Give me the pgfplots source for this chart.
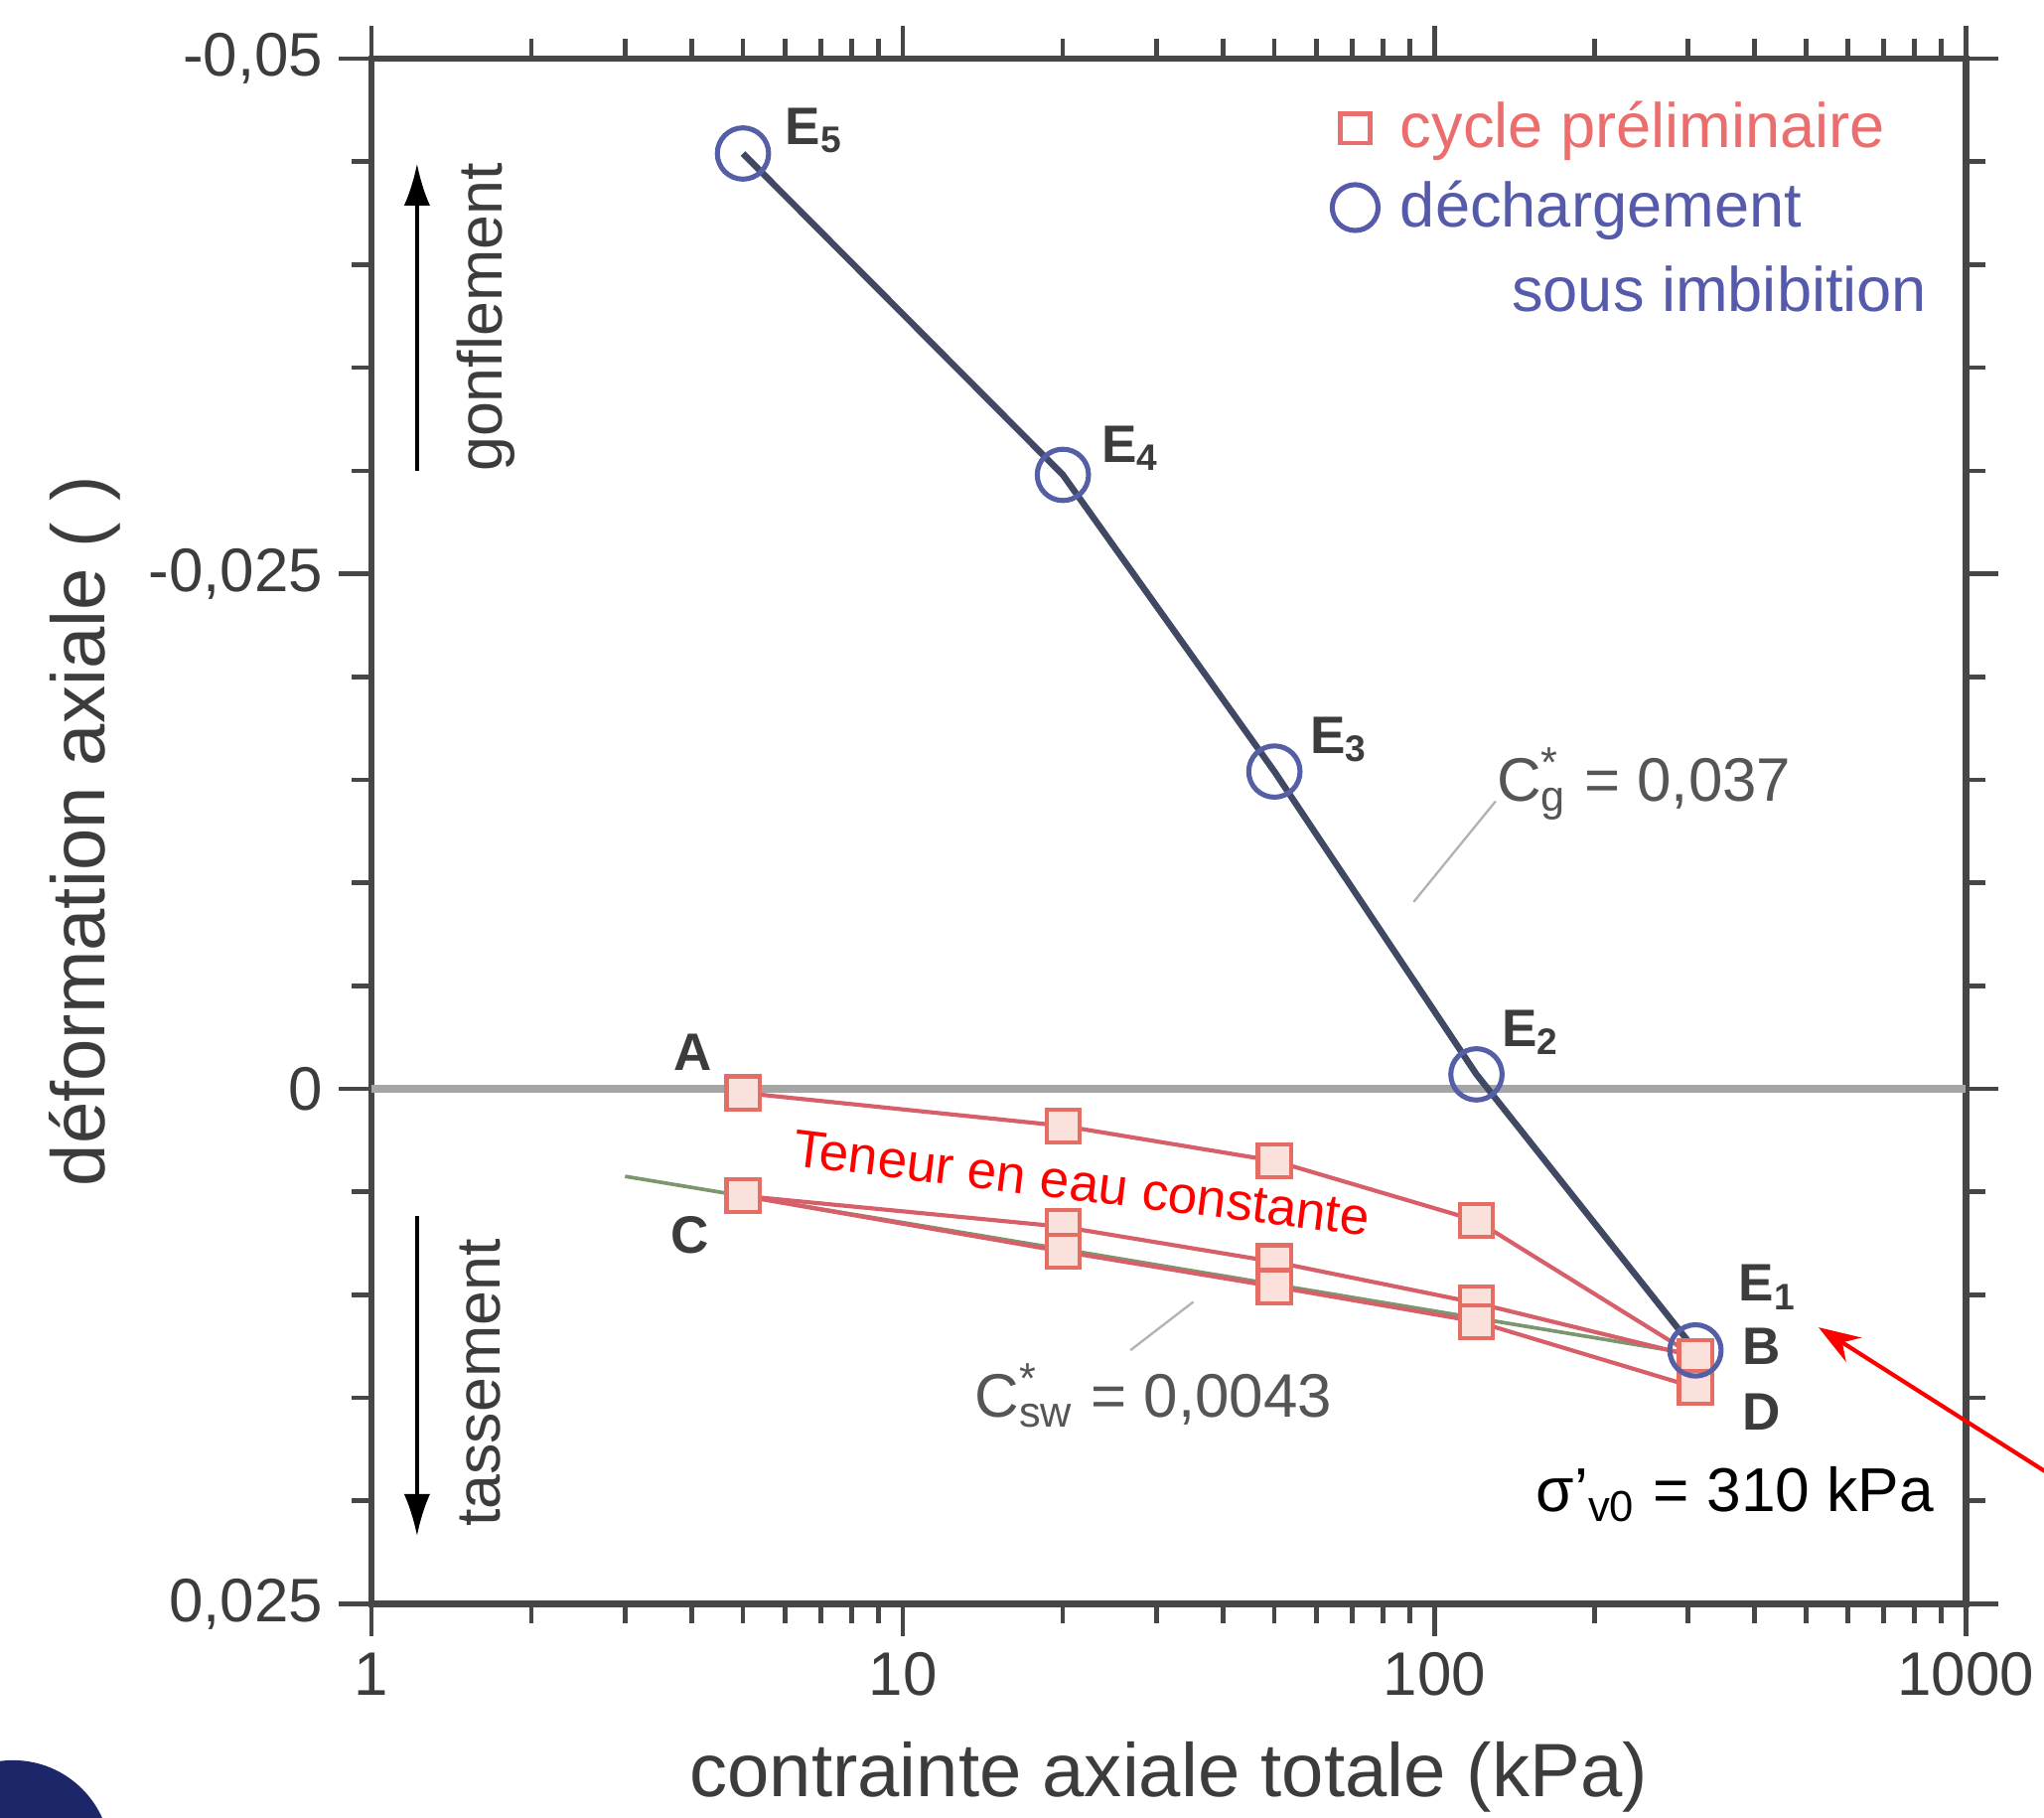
\documentclass[border=0pt]{standalone}
\usepackage{pgfplots}
\pgfplotsset{compat=1.18}
\usepackage{fontspec}
\setmainfont{Liberation Sans}
\usetikzlibrary{arrows.meta}
\definecolor{redline}{RGB}{215,95,105}
\definecolor{redmark}{RGB}{228,110,100}
\definecolor{redfill}{RGB}{250,225,220}
\definecolor{blueline}{RGB}{65,72,100}
\definecolor{bluemark}{RGB}{85,95,165}
\definecolor{legred}{RGB}{235,110,110}
\definecolor{legblue}{RGB}{85,90,170}
\definecolor{zerogray}{RGB}{165,165,165}
\definecolor{axgray}{RGB}{70,70,70}
\definecolor{fitgreen}{RGB}{125,150,110}
\definecolor{txtgray}{RGB}{60,60,60}
\definecolor{lbl}{RGB}{85,85,85}
\definecolor{navyblob}{RGB}{28,38,105}
\begin{document}
\begin{tikzpicture}
\useasboundingbox (0,0) rectangle (15.68cm,13.94cm);
\clip (0,0) rectangle (15.68cm,13.94cm);
\fill[navyblob] (0.10cm,-0.31cm) circle (0.75cm);
\begin{axis}[
  at={(2.85cm,1.64cm)}, anchor=south west,
  scale only axis, width=12.23cm, height=11.85cm,
  xmode=log, xmin=1, xmax=1000,
  ymin=-0.05, ymax=0.025, y dir=reverse,
  scaled y ticks=false,
  xtick={1,10,100,1000}, xticklabels={1,10,100,1000},
  minor xtick={2,3,4,5,6,7,8,9,20,30,40,50,60,70,80,90,200,300,400,500,600,700,800,900},
  ytick={-0.05,-0.025,0,0.025}, yticklabels={{-0,05},{-0,025},0,{0,025}},
  minor ytick={-0.045,-0.04,-0.035,-0.03,-0.02,-0.015,-0.01,-0.005,0.005,0.01,0.015,0.02},
  tick align=outside,
  major tick length=0.25cm, minor tick length=0.15cm,
  every tick/.style={axgray, line width=1pt},
  axis line style={axgray, line width=1.4pt},
  ticklabel style={font=\fontsize{13.4}{16}\selectfont, text=txtgray},
  xlabel={contrainte axiale totale (kPa)},
  ylabel={déformation axiale ( )},
  label style={font=\fontsize{16.5}{20}\selectfont, text=txtgray},
  xlabel style={at={(axis description cs:0.5,-0.1249)}, anchor=base},
  ylabel style={at={(axis description cs:-0.180,0.5)}, anchor=center},
  clip=false,
  legend style={at={(axis cs:64,-0.0484)}, anchor=north west, draw=none, fill=none,
    font=\fontsize{13.7}{16}\selectfont, row sep=0.06cm, inner sep=0pt},
  legend cell align=left,
]
% zero line
\addplot[zerogray, line width=1.7pt, forget plot] coordinates {(1,0) (1000,0)};
% fitted C_sw line
\addplot[fitgreen, line width=0.8pt, forget plot] coordinates {(3,0.00425) (310,0.0129)};
% preliminary cycle: loading A->B
\addplot[redline, line width=0.9pt, mark=square*, mark size=3.6pt,
  mark options={draw=redmark, fill=redfill, line width=0.9pt}, forget plot]
  coordinates {(5,0.0002) (20,0.0018) (50,0.0035) (120,0.0064) (310,0.0130)};
% unloading B->C
\addplot[redline, line width=0.9pt, mark=square*, mark size=3.6pt,
  mark options={draw=redmark, fill=redfill, line width=0.9pt}, forget plot]
  coordinates {(310,0.0130) (120,0.0104) (50,0.0084) (20,0.0067) (5,0.0052)};
% reloading C->D
\addplot[redline, line width=0.9pt, mark=square*, mark size=3.6pt,
  mark options={draw=redmark, fill=redfill, line width=0.9pt}, forget plot]
  coordinates {(5,0.0052) (20,0.0079) (50,0.0096) (120,0.0113) (310,0.0145)};
% unloading under imbibition
\addplot[blueline, line width=1.4pt, mark=o, mark size=5.6pt,
  mark options={draw=bluemark, line width=1.1pt}, forget plot]
  coordinates {(5,-0.0454) (20,-0.0298) (50,-0.0154) (120,-0.0007) (310,0.0127)};

\addlegendimage{only marks, mark=square, mark size=3.2pt, mark options={legred, line width=1pt}}
\addlegendentry{\hspace{0.1cm}\textcolor{legred}{cycle préliminaire}}
\addlegendimage{only marks, mark=o, mark size=5pt, mark options={legblue, line width=1.1pt}}
\addlegendentry{\hspace{0.1cm}\textcolor{legblue}{déchargement}}
\node[anchor=west, text=legblue, font=\fontsize{13.7}{16}\selectfont] at (axis cs:130.4,-0.0388) {sous imbibition};

% point labels
\begin{scope}[every node/.style={font=\fontsize{11.5}{13}\selectfont\bfseries, text=txtgray}]
\node at (axis cs:6.81,-0.0465) {E\textsubscript{5}};
\node at (axis cs:26.85,-0.0311) {E\textsubscript{4}};
\node at (axis cs:66.2,-0.01694) {E\textsubscript{3}};
\node at (axis cs:151.8,-0.00273) {E\textsubscript{2}};
\node at (axis cs:424,0.00964) {E\textsubscript{1}};
\node at (axis cs:412,0.0125) {B};
\node at (axis cs:412,0.01567) {D};
\node at (axis cs:4.03,-0.00178) {A};
\node at (axis cs:3.98,0.00711) {C};
\end{scope}

% slope annotations
\draw[gray!60, line width=0.5pt] (axis cs:130.4,-0.01396) -- (axis cs:91.4,-0.00907);
\node[text=lbl, font=\fontsize{13.4}{16}\selectfont] at (axis cs:248,-0.01478) {C\rlap{\textsuperscript{*}}\textsubscript{g}\ = 0,037};
\draw[gray!60, line width=0.5pt] (axis cs:26.8,0.01269) -- (axis cs:35.2,0.01034);
\node[text=lbl, font=\fontsize{13.4}{16}\selectfont] at (axis cs:29.6,0.01491) {C\rlap{\textsuperscript{*}}\textsubscript{sw}\ = 0,0043};

% swelling / settlement arrows
\draw[black, line width=0.7pt, -{Latex[length=0.32cm,width=0.2cm]}] (axis cs:1.218,-0.0300) -- (axis cs:1.218,-0.0449);
\node[rotate=90, text=txtgray, font=\fontsize{13.6}{16}\selectfont] at (axis cs:1.64,-0.03744) {gonflement};
\draw[black, line width=0.7pt, -{Latex[length=0.32cm,width=0.2cm]}] (axis cs:1.218,0.00616) -- (axis cs:1.218,0.0217);
\node[rotate=90, text=txtgray, font=\fontsize{13.6}{16}\selectfont] at (axis cs:1.60,0.01428) {tassement};

% red annotation
\node[rotate=-7, text=red, font=\fontsize{11.5}{14}\selectfont] at (axis cs:21.7,0.00457) {Teneur en eau constante};
\node[fill=white, inner xsep=3pt, inner ysep=5pt, font=\fontsize{13.5}{16}\selectfont] at (axis cs:368,0.01967) {σ’\textsubscript{v0} = 310 kPa};
\end{axis}
\draw[red, line width=0.9pt, -{Stealth[length=0.32cm,width=0.22cm]}] (16.2cm,2.33cm) -- (13.95cm,3.76cm);
\end{tikzpicture}
\end{document}
